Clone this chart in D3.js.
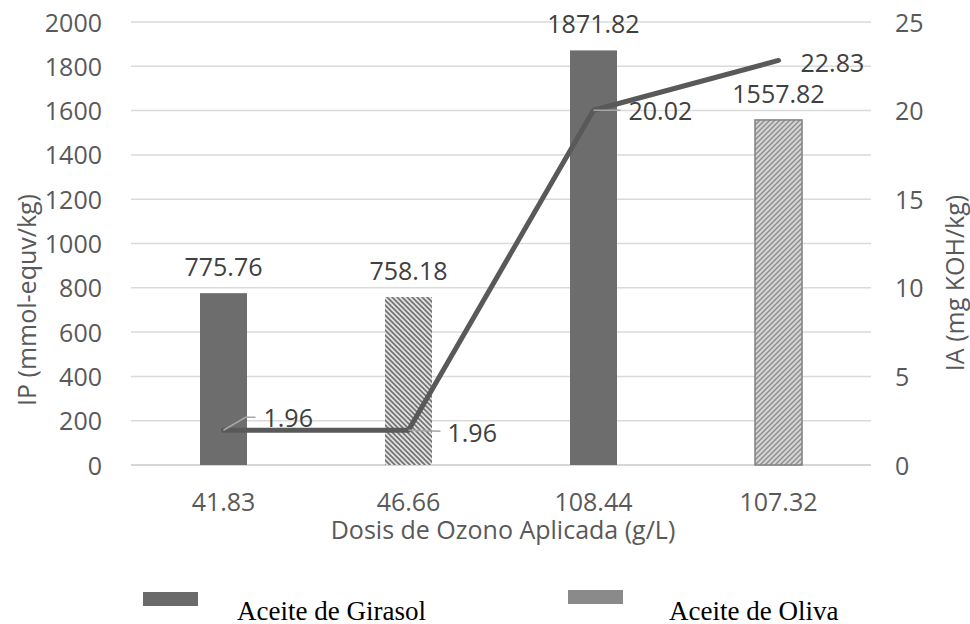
<!DOCTYPE html>
<html>
<head>
  <meta charset="utf-8">
  <style>
    body { margin: 0; background: #fff; }
    svg { display: block; }
    .tick text { font-family: "Open Sans", sans-serif; font-size: 25px; fill: #595959; }
  </style>
</head>
<body>
<script src="https://cdn.jsdelivr.net/npm/d3@7"></script>
<script>

// chart data
var categories = ["41.83", "46.66", "108.44", "107.32"];
var ipValues = [775.76, 758.18, 1871.82, 1557.82];
var iaValues = [1.96, 1.96, 20.02, 22.83];
var barSeries = ["Girasol", "Oliva", "Girasol", "Oliva2"];
var ipTicks = [0, 200, 400, 600, 800, 1000, 1200, 1400, 1600, 1800, 2000];
var iaTicks = [0, 5, 10, 15, 20, 25];
var legendNames = ["Aceite de Girasol", "Aceite de Oliva"];

var width = 970, height = 624;
var plotLeft = 131, plotRight = 871, plotTop = 22, plotBottom = 465;
var font = "'Open Sans', sans-serif";

var svg = d3.select("body").append("svg")
            .attr("width", width)
            .attr("height", height);

// hatch patterns for the olive oil bars
var defs = svg.append("defs");
var p1 = defs.append("pattern")
             .attr("id", "hatchDark")
             .attr("patternUnits", "userSpaceOnUse")
             .attr("width", 5).attr("height", 5);
p1.append("rect").attr("width", 5).attr("height", 5).attr("fill", "#e2e2e2");
p1.append("path").attr("d", "M-1,-1 L6,6 M-1,4 L1,6 M4,-1 L6,1")
  .attr("stroke", "#737373").attr("stroke-width", 1.7);

var p2 = defs.append("pattern")
             .attr("id", "hatchLight")
             .attr("patternUnits", "userSpaceOnUse")
             .attr("width", 5).attr("height", 5);
p2.append("rect").attr("width", 5).attr("height", 5).attr("fill", "#d4d4d4");
p2.append("path").attr("d", "M-1,6 L6,-1 M-1,1 L1,-1 M4,6 L6,4")
  .attr("stroke", "#8c8c8c").attr("stroke-width", 1.4);

var fills = { "Girasol": "#6d6d6d", "Oliva": "url(#hatchDark)", "Oliva2": "url(#hatchLight)" };

var x = d3.scaleBand().domain(categories).range([plotLeft, plotRight]);
var yL = d3.scaleLinear().domain([0, 2000]).range([plotBottom, plotTop]);
var yR = d3.scaleLinear().domain([0, 25]).range([plotBottom, plotTop]);

// gridlines
svg.append("g")
   .selectAll("line")
   .data(ipTicks)
   .enter().append("line")
   .attr("x1", plotLeft).attr("x2", plotRight)
   .attr("y1", function(d) { return yL(d); })
   .attr("y2", function(d) { return yL(d); })
   .attr("stroke", function(d) { return d === 0 ? "#c8c8c8" : "#dadada"; })
   .attr("stroke-width", 1.5);

// axes
var axL = svg.append("g")
   .attr("transform", "translate(" + (plotLeft - 29) + ",0)")
   .call(d3.axisLeft(yL).tickValues(ipTicks).tickFormat(d3.format("d")).tickSize(0).tickPadding(0));
axL.select(".domain").remove();
axL.selectAll("text").attr("dy", "0.36em");

var axR = svg.append("g")
   .attr("transform", "translate(" + (plotRight + 24) + ",0)")
   .call(d3.axisRight(yR).tickValues(iaTicks).tickSize(0).tickPadding(0));
axR.select(".domain").remove();
axR.selectAll("text").attr("dy", "0.36em");

var axB = svg.append("g")
   .attr("transform", "translate(0," + plotBottom + ")")
   .call(d3.axisBottom(x).tickSize(0).tickPadding(0));
axB.select(".domain").remove();
axB.selectAll("text").attr("dy", null).attr("y", 46);

// bars
var barW = 47;
svg.append("g")
   .selectAll("rect")
   .data(categories)
   .enter().append("rect")
   .attr("x", function(d) { return x(d) + x.bandwidth() / 2 - barW / 2; })
   .attr("y", function(d, i) { return yL(ipValues[i]); })
   .attr("width", barW)
   .attr("height", function(d, i) { return plotBottom - yL(ipValues[i]); })
   .attr("fill", function(d, i) { return fills[barSeries[i]]; })
   .attr("stroke", function(d, i) { return barSeries[i] === "Oliva2" ? "#808080" : "none"; })
   .attr("stroke-width", 1.5);

// bar labels
svg.append("g")
   .selectAll("text")
   .data(categories)
   .enter().append("text")
   .attr("x", function(d) { return x(d) + x.bandwidth() / 2; })
   .attr("y", function(d, i) { return yL(ipValues[i]) - 17; })
   .attr("text-anchor", "middle")
   .style("font-family", font)
   .style("font-size", "25px")
   .style("fill", "#404040")
   .text(function(d, i) { return ipValues[i].toFixed(2); });

// IA line
var cx = function(d, i) { return x(categories[i]) + x.bandwidth() / 2; };
var line = d3.line()
             .x(cx)
             .y(function(d) { return yR(d); });
svg.append("path")
   .attr("d", line(iaValues))
   .attr("fill", "none")
   .attr("stroke", "#595959")
   .attr("stroke-width", 5)
   .attr("stroke-linejoin", "round")
   .attr("stroke-linecap", "round");

// line labels with leader lines (offsets)
var iaLabelOffsets = [[40, -3, 22, -13], [39, 12, 32, 1], [35, 10, 27, 0], [22, 12, 0, 0]];
var labG = svg.append("g");
iaValues.forEach(function(v, i) {
  var px = cx(v, i), py = yR(v), o = iaLabelOffsets[i];
  if (o[2] !== 0) {
    var pts = i === 0 ? [[px, py], [px + 22, py - 13], [px + 32, py - 13]] : [[px, py], [px + o[2], py + o[3]]];
    labG.append("path")
        .attr("d", d3.line()(pts))
        .attr("fill", "none")
        .attr("stroke", "#a6a6a6")
        .attr("stroke-width", 1.5);
  }
  labG.append("text")
      .attr("x", px + o[0])
      .attr("y", py + o[1])
      .style("font-family", font)
      .style("font-size", "25px")
      .style("fill", "#404040")
      .text(v.toFixed(2));
});

// axis titles
svg.append("text")
   .attr("transform", "translate(36,300) rotate(-90)")
   .attr("text-anchor", "middle")
   .style("font-family", font)
   .style("font-size", "25px")
   .style("fill", "#595959")
   .text("IP (mmol-equv/kg)");

svg.append("text")
   .attr("transform", "translate(964,283) rotate(-90)")
   .attr("text-anchor", "middle")
   .style("font-family", font)
   .style("font-size", "25px")
   .style("fill", "#595959")
   .text("IA (mg KOH/kg)");

svg.append("text")
   .attr("x", 503)
   .attr("y", 539)
   .attr("text-anchor", "middle")
   .style("font-family", font)
   .style("font-size", "25px")
   .style("fill", "#595959")
   .text("Dosis de Ozono Aplicada (g/L)");

// legend
var legendSwatch = [{ x: 143, y: 592, c: "#6a6a6a", tx: 237 }, { x: 568, y: 590, c: "#8a8a8a", tx: 669 }];
var lg = svg.append("g");
legendNames.forEach(function(name, i) {
  var s = legendSwatch[i];
  lg.append("rect").attr("x", s.x).attr("y", s.y).attr("width", 55).attr("height", 14).attr("fill", s.c);
  lg.append("text")
    .attr("x", s.tx).attr("y", 620)
    .style("font-family", "'Liberation Serif', 'Times New Roman', serif")
    .style("font-size", "27px")
    .style("fill", "#000")
    .text(name);
});

</script>
</body>
</html>
